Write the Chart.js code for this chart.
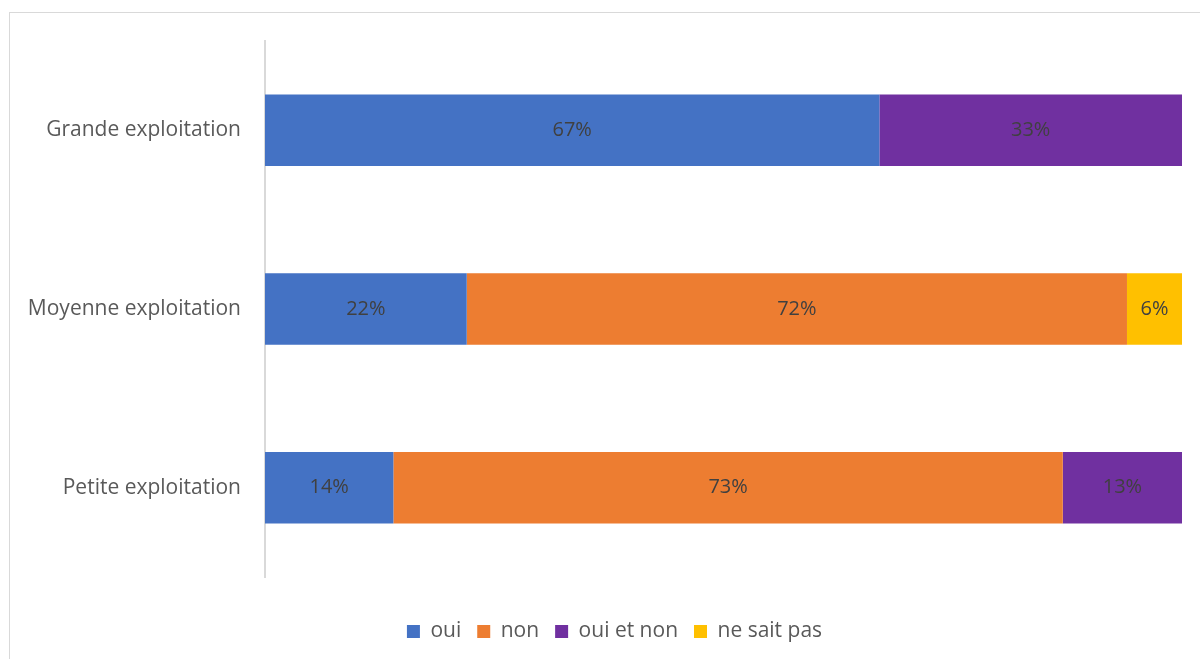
<!DOCTYPE html>
<html lang="fr">
<head>
<meta charset="utf-8">
<title>Exploitations</title>
<script src="https://cdn.jsdelivr.net/npm/chart.js@4/dist/chart.umd.min.js"></script>
<style>
  html, body { margin: 0; padding: 0; background: #ffffff; overflow: hidden; }
  #wrap { position: relative; width: 1200px; height: 659px; }
  #frame { position: absolute; left: 9px; top: 12px; width: 1400px; height: 900px; border: 1px solid #d9d9d9; box-sizing: border-box; }
  #chart { position: absolute; left: 0; top: 0; }
</style>
</head>
<body>
<div id="wrap">
  <div id="frame"></div>
  <canvas id="chart" width="1200" height="659"></canvas>
</div>
<script>
var categories = ['Grande exploitation', 'Moyenne exploitation', 'Petite exploitation'];
var seriesNames = ['oui', 'non', 'oui et non', 'ne sait pas'];
var ouiValues = [67, 22, 14];
var nonValues = [0, 72, 73];
var ouiEtNonValues = [33, 0, 13];
var neSaitPasValues = [0, 6, 0];
var seriesColors = ['#4472C4', '#ED7D31', '#7030A0', '#FFC000'];

var fontFamily = '"Open Sans", sans-serif';

// writes the percentage in the middle of every non-empty segment
var segmentLabels = {
    id: 'segmentLabels',
    afterDatasetsDraw: function (chart) {
        var ctx = chart.ctx;
        ctx.save();
        ctx.font = '20px ' + fontFamily;
        ctx.fillStyle = '#404040';
        ctx.textAlign = 'center';
        ctx.textBaseline = 'middle';
        chart.data.datasets.forEach(function (ds, i) {
            var meta = chart.getDatasetMeta(i);
            meta.data.forEach(function (bar, j) {
                var v = ds.data[j];
                if (!v) return;
                var p = bar.getProps(['x', 'y', 'base'], true);
                ctx.fillText(v + '%', (p.x + p.base) / 2, p.y);
            });
        });
        ctx.restore();
    }
};

// legend sits a little right of the canvas centre, under the bars
var legendShift = {
    id: 'legendShift',
    afterLayout: function (chart) {
        if (chart.legend) {
            chart.legend.left += 47;
        }
    }
};

var allValues = [ouiValues, nonValues, ouiEtNonValues, neSaitPasValues];

var ctxChart = document.getElementById('chart').getContext('2d');
new Chart(ctxChart, {
    type: 'bar',
    data: {
        labels: categories,
        datasets: seriesNames.map(function (name, i) {
            return {
                label: name,
                data: allValues[i],
                backgroundColor: seriesColors[i],
                borderWidth: 0,
                categoryPercentage: 1,
                barPercentage: 0.4
            };
        })
    },
    options: {
        indexAxis: 'y',
        responsive: false,
        animation: false,
        layout: {
            padding: { top: 41, right: 18, bottom: 7, left: 0 }
        },
        scales: {
            x: {
                stacked: true,
                min: 0,
                max: 100,
                grid: { display: false },
                border: { display: false },
                ticks: { display: false },
                // empty band between the bars and the legend
                afterFit: function (scale) { scale.height = 28; }
            },
            y: {
                stacked: true,
                afterFit: function (scale) { scale.width = 265; },
                grid: { display: false, drawTicks: false },
                border: { display: true, color: '#d9d9d9', width: 2 },
                ticks: {
                    padding: 24,
                    color: '#595959',
                    font: { family: fontFamily, size: 21 }
                }
            }
        },
        plugins: {
            tooltip: { enabled: false },
            legend: {
                position: 'bottom',
                labels: {
                    boxWidth: 13,
                    boxHeight: 13,
                    padding: 16,
                    color: '#595959',
                    font: { family: fontFamily, size: 21 }
                }
            }
        }
    },
    plugins: [segmentLabels, legendShift]
});
</script>
</body>
</html>
